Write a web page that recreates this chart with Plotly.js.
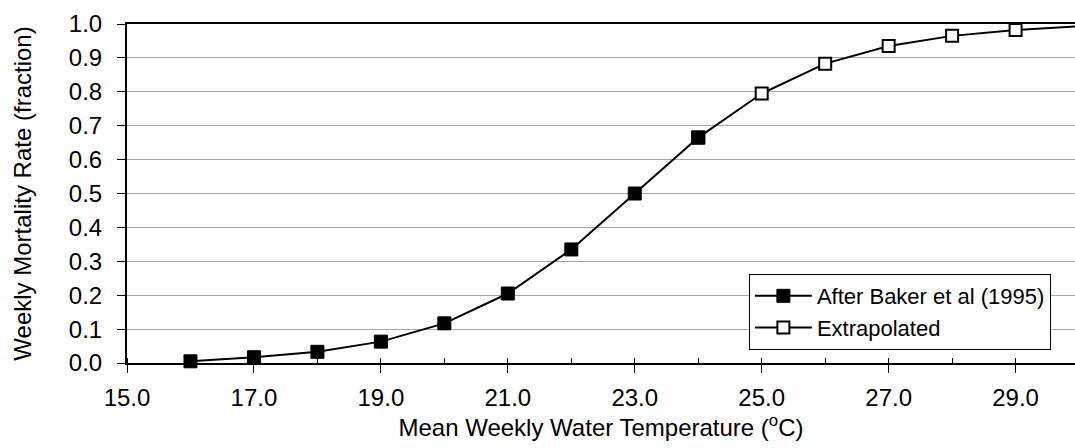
<!DOCTYPE html>
<html>
<head>
<meta charset="utf-8">
<script src="https://cdn.plot.ly/plotly-3.0.1.min.js"></script>
<style>html,body{margin:0;padding:0;background:#fff;}#chart{width:1075px;height:448px;}</style>
</head>
<body>
<div id="chart"></div>
<script>
const bakerTemp = [16, 17, 18, 19, 20, 21, 22, 23, 24];
const bakerRate = [0.005, 0.017, 0.033, 0.063, 0.117, 0.205, 0.335, 0.500, 0.665];
const extrapTemp = [24, 25, 26, 27, 28, 29, 30];
const extrapRate = [0.665, 0.795, 0.883, 0.935, 0.965, 0.982, 0.993];
const xTickVals = [15, 17, 19, 21, 23, 25, 27, 29];
const xTickText = ["15.0", "17.0", "19.0", "21.0", "23.0", "25.0", "27.0", "29.0"];
const yTickVals = [0, 0.1, 0.2, 0.3, 0.4, 0.5, 0.6, 0.7, 0.8, 0.9, 1.0];
const yTickText = ["0.0", "0.1", "0.2", "0.3", "0.4", "0.5", "0.6", "0.7", "0.8", "0.9", "1.0"];

const FONT = "Liberation Sans, Arial, sans-serif";
const FS = 24;
const FT = 24;

const traces = [
  {
    x: extrapTemp, y: extrapRate, name: "Extrapolated", type: "scatter", mode: "lines+markers",
    line: {color: "#000", width: 2},
    marker: {symbol: "square", size: 12, color: "#fff", line: {color: "#000", width: 2}},
    legendrank: 2, cliponaxis: false
  },
  {
    x: bakerTemp, y: bakerRate, name: "After Baker et al (1995)", type: "scatter", mode: "lines+markers",
    line: {color: "#000", width: 2},
    marker: {symbol: "square", size: 13, color: "#000", line: {color: "#000", width: 1}},
    legendrank: 1, cliponaxis: false
  }
];

const layout = {
  width: 1075, height: 448,
  margin: {l: 127, r: 0, t: 24, b: 85},
  paper_bgcolor: "#fff", plot_bgcolor: "#fff",
  font: {family: FONT, size: FS, color: "#000"},
  showlegend: true,
  legend: {
    x: 0.656, y: 0.2625, xanchor: "left", yanchor: "top",
    bgcolor: "#fff", bordercolor: "#000", borderwidth: 1,
    font: {family: FONT, size: 22, color: "#000"},
    itemwidth: 57, tracegroupgap: 0,
    traceorder: "normal"
  },
  xaxis: {
    range: [15, 29.936], tickvals: xTickVals, ticktext: xTickText,
    showgrid: false, zeroline: false,
    showline: true, linecolor: "#000", linewidth: 2, mirror: true,
    ticks: "outside", ticklen: 8, tickwidth: 1, tickcolor: "#000",
    ticklabelstandoff: 4,
    minor: {dtick: 1, tick0: 15, ticks: "inside", ticklen: 5, tickwidth: 1, tickcolor: "#000", showgrid: false},
    tickfont: {family: FONT, size: FS, color: "#000"},
    automargin: true,
    title: {text: "Mean Weekly Water Temperature (<sup>o</sup>C)", font: {family: FONT, size: FT, color: "#000"}, standoff: 8}
  },
  yaxis: {
    range: [0, 1.0], tickvals: yTickVals, ticktext: yTickText,
    showgrid: true, gridcolor: "#a6a6a6", gridwidth: 1, zeroline: false,
    showline: true, linecolor: "#000", linewidth: 2,
    ticks: "outside", ticklen: 8, tickwidth: 1, tickcolor: "#000",
    ticklabelstandoff: 10,
    tickfont: {family: FONT, size: FS, color: "#000"},
    automargin: true,
    title: {text: "Weekly Mortality Rate (fraction)", font: {family: FONT, size: FT, color: "#000"}, standoff: 30}
  }
};

Plotly.newPlot("chart", traces, layout, {displayModeBar: false, staticPlot: true});
</script>
</body>
</html>
